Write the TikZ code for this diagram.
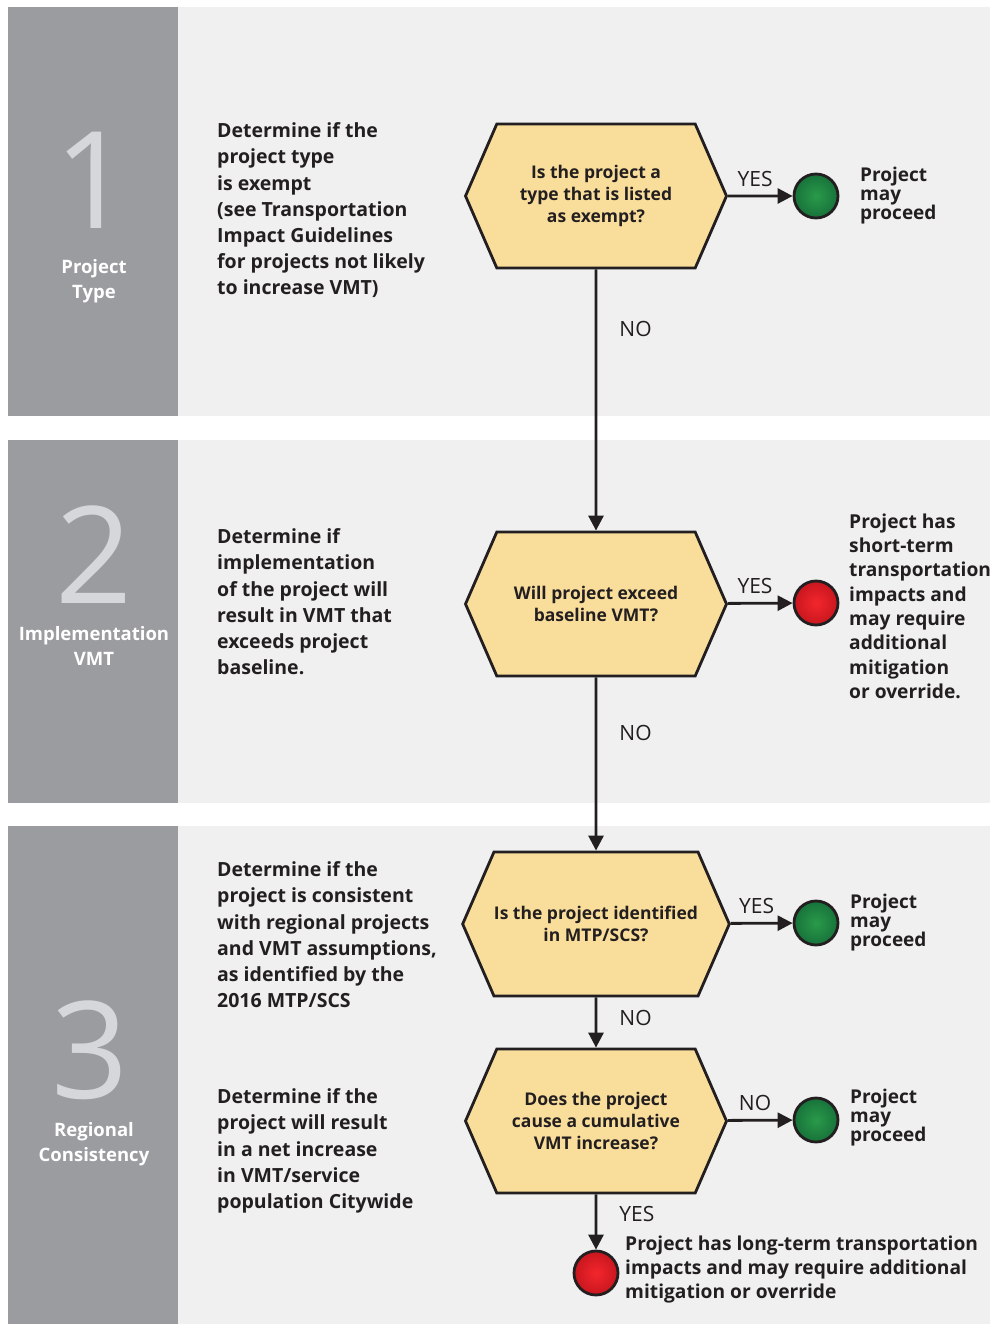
\documentclass[tikz,border=0pt]{standalone}
\usepackage{fontspec}
\setmainfont{Open Sans}
\usetikzlibrary{shapes.symbols,arrows.meta,positioning}

\definecolor{bandgray}{HTML}{F0F0F0}
\definecolor{stripgray}{HTML}{9B9CA0}
\definecolor{numgray}{HTML}{D6D7DA}
\definecolor{hexfill}{HTML}{F9DD9B}
\definecolor{ink}{HTML}{231F20}
\definecolor{okin}{HTML}{2A9A4A}
\definecolor{okout}{HTML}{17723A}
\definecolor{stopin}{HTML}{F4262D}
\definecolor{stopout}{HTML}{C8161E}

\newcommand\descfont{\fontsize{19.5}{26.2}\selectfont\bfseries}
\newcommand\qfont{\fontsize{17.5}{22}\selectfont\bfseries}
\newcommand\tagfont{\fontsize{21}{23}\selectfont}
\newcommand\resultfont{\fontsize{19}{19}\selectfont\bfseries}
\newcommand\longfont{\fontsize{19.2}{24.3}\selectfont\bfseries}

\tikzset{
  question/.style={signal, signal to=east and west, signal pointer angle=133,
    draw=ink, line width=2.8pt, fill=hexfill, minimum width=261pt,
    minimum height=144pt, inner sep=0pt, align=center, font=\qfont, text=ink},
  okdot/.style={circle, draw=ink, line width=2.8pt, minimum size=44pt,
    inner sep=0pt, inner color=okin, outer color=okout},
  stopdot/.style={okdot, inner color=stopin, outer color=stopout},
  flow/.style={draw=ink, line width=2.8pt, -{Triangle[length=15pt,width=15pt]}},
  desc/.style={anchor=north west, align=left, inner sep=0pt, font=\descfont, text=ink},
  outcome/.style={anchor=north west, align=left, inner sep=0pt, font=\resultfont, text=ink},
  steptitle/.style={anchor=north, align=center, inner sep=0pt, text=white,
    font=\fontsize{18.5}{25.3}\selectfont\bfseries},
  numeral/.style={anchor=base, inner sep=0pt, text=numgray, font=\fontsize{135}{135}\selectfont},
  tag/.style={inner sep=0pt, font=\tagfont, text=ink}
}

\begin{document}
\begin{tikzpicture}[x=1pt,y=-1pt]
\useasboundingbox (0,0) rectangle (990,1324);
\fill[white] (0,0) rectangle (990,1324);
\foreach \ytop/\ybot in {7/416,440/803,826/1324}{
  \fill[bandgray] (8,\ytop) rectangle (990,\ybot);
  \fill[stripgray] (8,\ytop) rectangle (178,\ybot);
}
\foreach \n/\x/\y in {1/93/229,2/94/603,3/90/1098}
  \node[numeral] (num\n) at (\x,\y) {\n};
\node[steptitle] (title1) at (94,259) {Project\\Type};
\node[steptitle] (title2) at (94,626) {Implementation\\VMT};
\node[steptitle] (title3) at (94,1122) {Regional\\Consistency};

\node[desc] (desc1) at (217,122.5) {Determine if the\\project type\\is exempt\\(see Transportation\\Impact Guidelines\\for projects not likely\\to increase VMT)};
\node[desc] (desc2) at (217,528.5) {Determine if\\implementation\\of the project will\\result in VMT that\\exceeds project\\baseline.};
\node[desc] (desc3) at (217,861.5) {Determine if the\\project is consistent\\with regional projects\\and VMT assumptions,\\as identified by the\\2016 MTP/SCS};
\node[desc] (desc4) at (217,1088.5) {Determine if the\\project will result\\in a net increase\\in VMT/service\\population Citywide};

\node[question] (q1) at (596,196) {Is the project a\\type that is listed\\as exempt?};
\node[question] (q2) at (596,604) {Will project exceed\\baseline VMT?};
\node[question] (q3) at (596,924) {Is the project identified\\in MTP/SCS?};
\node[question] (q4) at (596,1121) {Does the project\\cause a cumulative\\VMT increase?};

\node[okdot] (ok1) at (816,196) {};
\node[stopdot] (stop2) at (816,603) {};
\node[okdot] (ok3) at (816,923) {};
\node[okdot] (ok4) at (816,1120) {};
\node[stopdot] (stop4) at (596,1273) {};

\node[outcome] (out1) at (860,167) {Project\\may\\proceed};
\node[outcome, font=\longfont] (out2) at (849,513.5) {Project has\\short-term\\transportation\\impacts and\\may require\\additional\\mitigation\\or override.};
\node[outcome] (out3) at (850,894) {Project\\may\\proceed};
\node[outcome] (out4) at (850,1089) {Project\\may\\proceed};
\node[outcome, font=\longfont] (out5) at (625,1235.5) {Project has long-term transportation\\impacts and may require additional\\mitigation or override};

\draw[flow] (q1) -- (ok1) node[tag, pos=0.42, above=8pt] {YES};
\draw[flow] (q2) -- (stop2) node[tag, pos=0.42, above=8pt] {YES};
\draw[flow] (q3) -- (ok3) node[tag, pos=0.42, above=8pt] {YES};
\draw[flow] (q4) -- (ok4) node[tag, pos=0.42, above=8pt] {NO};
\draw[flow] (q1) -- (q2) node[tag, pos=0.23, right=22pt] {NO};
\draw[flow] (q2) -- (q3) node[tag, pos=0.32, right=22pt] {NO};
\draw[flow] (q3) -- (q4) node[tag, pos=0.4, right=22pt] {NO};
\draw[flow] (q4) -- (stop4) node[tag, pos=0.35, right=22pt] {YES};
\end{tikzpicture}
\end{document}
